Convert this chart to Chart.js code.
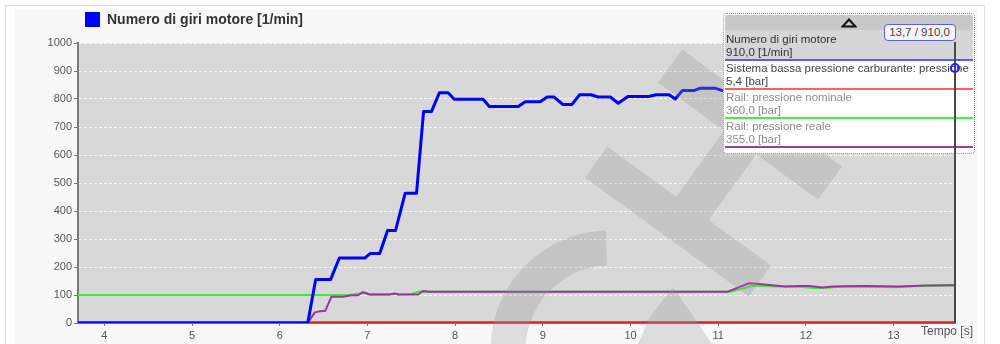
<!DOCTYPE html>
<html lang="it">
<head>
<meta charset="UTF-8">
<title>Numero di giri motore</title>
<script src="https://cdn.jsdelivr.net/npm/chart.js@4.4.1/dist/chart.umd.min.js"></script>
<style>
  body { margin: 0; background: #fff; font-family: Arial, "Liberation Sans", sans-serif; }
  #wrap { position: relative; width: 1000px; height: 344px; overflow: hidden; }
  .frame { position: absolute; left: 5px; top: 5px; width: 978px; height: 360px; border: 1px solid #dedede; background: #fff; }
  .panel { position: absolute; left: 15px; top: 10px; width: 962px; height: 360px; background: #f8f8f8; }
  #chart { position: absolute; left: 0; top: 0; }
  .legend { position: absolute; left: 85px; top: 12px; font-weight: bold; font-size: 14px; line-height: 15px; color: #333; white-space: nowrap; }
  .legend i { display: inline-block; width: 15px; height: 15px; vertical-align: top; margin-right: 7px; }
  .info { position: absolute; left: 723px; top: 13px; width: 252px; height: 141px; box-sizing: border-box;
          border: 1px dotted #8c8c8c; border-radius: 4px; background: #fff; font-size: 11.5px; overflow: hidden; }
  .info .head { height: 15px; margin: 1px 1px 0; background: #c8c8c8; border-radius: 3px 3px 0 0; text-align: center; }
  .info .head svg { margin-top: 3px; }
  .info .row { height: 29px; box-sizing: border-box; margin: 0 1px; padding: 1px 0 0 1px; line-height: 13px;
               border-bottom: 2px solid; white-space: nowrap; overflow: hidden; color: #8d8d8d; }
  .info .row.sel { height: 31px; padding-top: 3px; background: #d6d6d6; color: #333; }
  .info .row.on { color: #444; }
  .tempo { position: absolute; left: 921px; top: 325px; font-size: 12px; line-height: 12px; color: #555; }
  #cursorLine { position: absolute; width: 2px; background: #4a4a4a; }
  #cursorDot { position: absolute; width: 6px; height: 6px; border: 2px solid #2020ff; border-radius: 50%; }
  #cursorLabel { position: absolute; top: 24px; width: 70px; height: 15px; border: 1.5px solid #5c5cf0; border-radius: 4px;
                 background: #f6f6f6; color: #444; font-size: 11.5px; line-height: 15px; text-align: center; }
</style>
</head>
<body>
<div id="wrap">
  <div class="frame"></div>
  <div class="panel"></div>
  <canvas id="chart" width="1000" height="344"></canvas>
  <div class="legend"><i id="legendBox"></i><span id="legendText"></span></div>
  <div class="info" id="info">
    <div class="head"><svg width="16" height="10"><polygon points="8,1.5 14.5,8.5 1.5,8.5" fill="none" stroke="#111" stroke-width="2"/></svg></div>
  </div>
  <div class="tempo">Tempo [s]</div>
  <div id="cursorLine"></div>
  <div id="cursorDot"></div>
  <div id="cursorLabel"></div>
</div>
<script>
// series names / units / values at the cursor
const seriesNames = ['Numero di giri motore', 'Sistema bassa pressione carburante: pressione', 'Rail: pressione nominale', 'Rail: pressione reale'];
const seriesUnits = ['1/min', 'bar', 'bar', 'bar'];
const cursorReadings = [910.0, 5.4, 360.0, 355.0];
const seriesColors = ['#0000ff', '#e02424', '#3ee83e', '#96379a'];
const boxLineColors = ['#5a5af5', '#ff5f5f', '#44ee44', '#9b3b9b'];

// Numero di giri motore
const rpmTime = [3.7, 6.32, 6.41, 6.58, 6.68, 6.97, 7.03, 7.14, 7.23, 7.32, 7.43, 7.56, 7.64, 7.73, 7.82, 7.92, 7.99, 8.32, 8.39, 8.72,
                 8.80, 8.97, 9.05, 9.13, 9.23, 9.33, 9.42, 9.55, 9.63, 9.77, 9.86, 9.97, 10.21, 10.29, 10.44, 10.51, 10.59, 10.72, 10.79, 10.97,
                 11.05, 11.4, 11.9, 12.4, 12.9, 13.3, 13.7];
const rpmValues = [0, 0, 155, 155, 232, 232, 248, 248, 330, 330, 463, 463, 755, 755, 822, 822, 799, 799, 773, 773,
                   790, 790, 807, 807, 780, 780, 815, 815, 807, 807, 785, 809, 809, 815, 815, 800, 830, 830, 838, 838,
                   830, 850, 870, 885, 895, 905, 910];

// Rail: pressione reale
const railRealTime = [3.7, 6.32, 6.40, 6.46, 6.52, 6.59, 6.72, 6.82, 6.89, 6.95, 7.03, 7.25, 7.31, 7.36, 7.58, 7.63, 7.71,
                      11.11, 11.35, 11.47, 11.70, 11.77, 11.92, 12.04, 12.19, 12.30, 12.68, 13.06, 13.37, 13.7];
const railRealValues = [0, 0, 38, 42, 44, 94, 94, 99, 99, 110, 102, 102, 105, 102, 102, 114, 112,
                        112, 142, 139, 132, 130, 132, 132, 127, 130, 132, 130, 134, 135];

// Rail: pressione nominale
const railNomTime = [3.7, 6.80, 6.87, 6.95, 7.03, 7.25, 7.31, 7.36, 7.50, 7.58, 7.71, 11.15, 11.39, 11.70, 11.80, 12.00,
                     12.10, 12.25, 12.40, 12.70, 13.00, 13.30, 13.7];
const railNomValues = [100, 100, 104, 108, 102, 102, 104, 102, 104, 112, 112, 112, 133, 130, 130, 128,
                       124, 126, 130, 130, 128, 132, 135];

// Sistema bassa pressione carburante
const lowPressTime = [3.7, 6.3, 13.7];
const lowPressValues = [3, 3, 3];

const xTicks = [4, 5, 6, 7, 8, 9, 10, 11, 12, 13];
const xMin = 3.7;
const cursorTime = 13.7;
const yMax = 1000, yStep = 100;

const fmt = v => v.toFixed(1).replace('.', ',');
const toPoints = (ts, vs) => ts.map((t, i) => ({ x: t, y: vs[i] }));

Chart.defaults.font.family = 'Arial, "Liberation Sans", sans-serif';

const plotBg = {
  id: 'plotBg',
  beforeDraw(chart) {
    const { ctx, chartArea: a } = chart;
    ctx.save();
    ctx.fillStyle = '#d8d8d8';
    ctx.fillRect(a.left, a.top, a.width, a.height);
    ctx.restore();
  }
};

// faint logo watermark laid over the plot
const watermark = {
  id: 'watermark',
  afterDatasetsDraw(chart) {
    const off = document.createElement('canvas');
    off.width = chart.width;
    off.height = chart.height;
    const g = off.getContext('2d');
    g.strokeStyle = g.fillStyle = '#969696';
    const band = (x1, y1, x2, y2, w) => {
      g.lineWidth = w;
      g.beginPath(); g.moveTo(x1, y1); g.lineTo(x2, y2); g.stroke();
    };
    band(596, 162, 760, 281, 38);
    band(670, 66, 830, 183, 41);
    band(681, 224, 752, 126, 40);
    g.lineWidth = 35;
    g.beginPath(); g.arc(610, 350, 102, 110 * Math.PI / 180, 268 * Math.PI / 180); g.stroke();
    g.beginPath(); g.moveTo(673, 287); g.lineTo(712, 344); g.lineTo(638, 344); g.lineTo(650, 317); g.closePath(); g.fill();
    const ctx = chart.ctx;
    ctx.save();
    ctx.globalAlpha = 0.28;
    ctx.drawImage(off, 0, 0);
    ctx.restore();
  }
};

const chart = new Chart(document.getElementById('chart'), {
  type: 'line',
  data: {
    datasets: [
      { label: seriesNames[0], data: toPoints(rpmTime, rpmValues), borderColor: seriesColors[0], borderWidth: 3 },
      { label: seriesNames[3], data: toPoints(railRealTime, railRealValues), borderColor: seriesColors[3], borderWidth: 2 },
      { label: seriesNames[2], data: toPoints(railNomTime, railNomValues), borderColor: seriesColors[2], borderWidth: 2 },
      { label: seriesNames[1], data: toPoints(lowPressTime, lowPressValues), borderColor: seriesColors[1], borderWidth: 2 }
    ]
  },
  options: {
    responsive: false,
    animation: false,
    elements: {
      point: { radius: 0 },
      line: { tension: 0, borderJoinStyle: 'round', fill: false }
    },
    layout: { padding: { top: 43, right: 45, bottom: 0, left: 0 } },
    plugins: { legend: { display: false }, tooltip: { enabled: false } },
    scales: {
      x: {
        type: 'linear', min: xMin, max: cursorTime,
        afterBuildTicks: s => { s.ticks = xTicks.map(v => ({ value: v })); },
        afterFit: s => { s.height = 21; },
        ticks: { color: '#555', font: { size: 11 }, padding: 3, maxRotation: 0, autoSkip: false },
        grid: { drawOnChartArea: false, tickLength: 3, tickColor: '#777' },
        border: { color: '#777', width: 1 }
      },
      y: {
        min: 0, max: yMax,
        afterFit: s => { s.width = 78; },
        ticks: { stepSize: yStep, color: '#555', font: { size: 11 }, padding: 2, callback: v => v },
        grid: { color: 'rgba(255,255,255,0.85)', lineWidth: 1, tickLength: 4, tickColor: '#777', tickBorderDash: [] },
        border: { color: '#7a7a7a', width: 2, dash: [3, 2] }
      }
    }
  },
  plugins: [plotBg, watermark]
});

// legend
document.getElementById('legendBox').style.background = seriesColors[0];
document.getElementById('legendText').textContent = seriesNames[0] + ' [' + seriesUnits[0] + ']';

// info box rows
const info = document.getElementById('info');
seriesNames.forEach((name, i) => {
  const row = document.createElement('div');
  row.className = 'row' + (i === 0 ? ' sel' : i === 1 ? ' on' : '');
  row.style.borderBottomColor = boxLineColors[i];
  row.innerHTML = name + '<br>' + fmt(cursorReadings[i]) + ' [' + seriesUnits[i] + ']';
  info.appendChild(row);
});

// cursor
const area = chart.chartArea;
const cx = chart.scales.x.getPixelForValue(cursorTime);
const cy = chart.scales.y.getPixelForValue(rpmValues[rpmValues.length - 1]);
const line = document.getElementById('cursorLine');
line.style.left = (cx - 1) + 'px';
line.style.top = '42px';
line.style.height = (area.bottom - 42) + 'px';
const dot = document.getElementById('cursorDot');
dot.style.left = (cx - 5) + 'px';
dot.style.top = (cy - 5) + 'px';
const lbl = document.getElementById('cursorLabel');
lbl.textContent = fmt(cursorTime) + ' / ' + fmt(cursorReadings[0]);
lbl.style.left = (cx + 1.5 - 73) + 'px';
</script>
</body>
</html>
